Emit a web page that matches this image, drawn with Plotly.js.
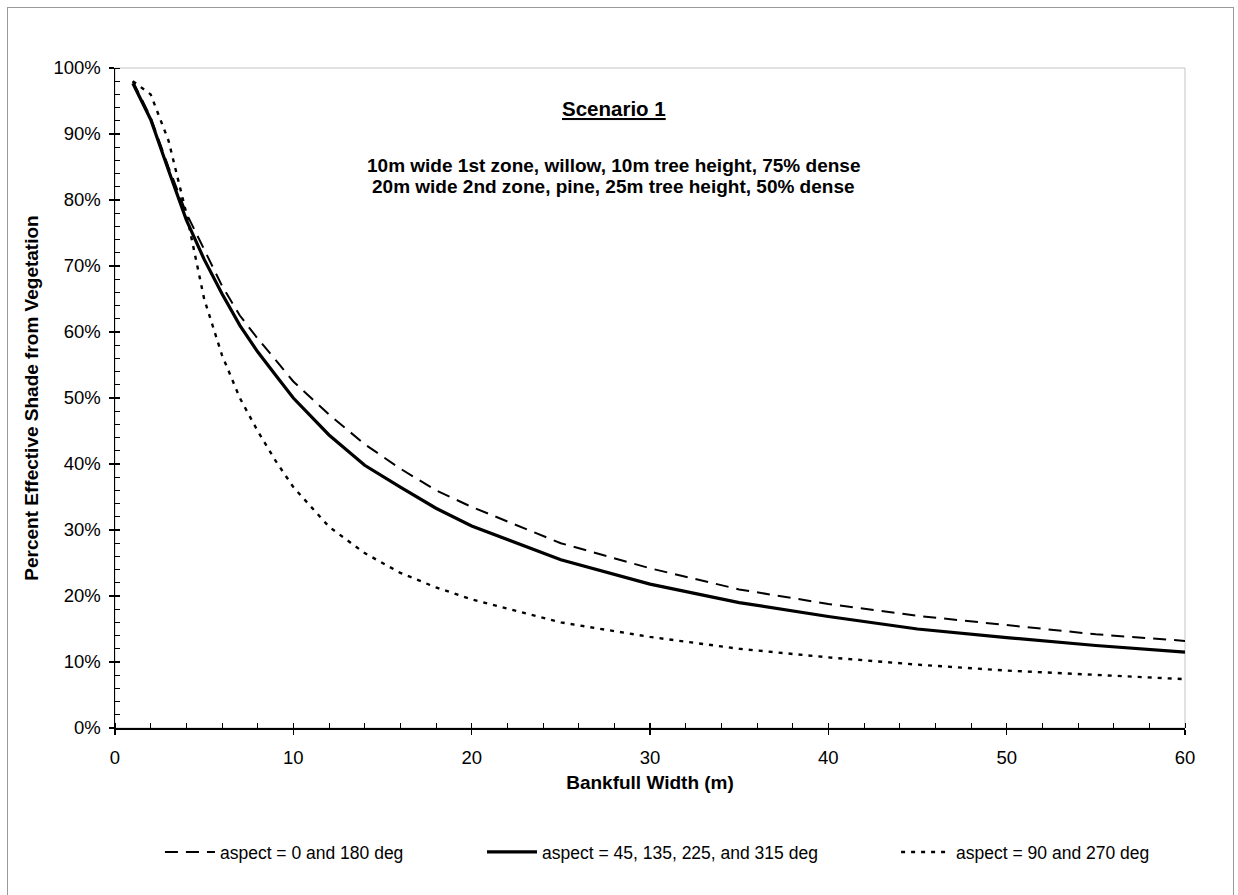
<!DOCTYPE html>
<html>
<head>
<meta charset="utf-8">
<script src="https://cdn.plot.ly/plotly-3.0.1.min.js"></script>
<style>
  html, body { margin: 0; padding: 0; background: #fff; }
  #chart { position: absolute; left: 0; top: 0; width: 1238px; height: 895px; }
  #frame { position: absolute; left: 7px; top: 7px; width: 1225px; height: 900px; border: 1px solid #9a9a9a; pointer-events: none; }
</style>
</head>
<body>
<div id="chart"></div>
<div id="frame"></div>
<script>
// Bankfull width (m)
const widths = [1, 2, 3, 4, 5, 6, 7, 8, 9, 10, 12, 14, 16, 18, 20, 25, 30, 35, 40, 45, 50, 55, 60];
// Percent effective shade (%)
const shadeAspect0_180 = [98, 92.5, 85, 78, 72.5, 67, 62.5, 59, 55.8, 52.5, 47.5, 43, 39.3, 36, 33.5, 28, 24.2, 21, 18.8, 17, 15.6, 14.2, 13.2];
const shadeAspect45 = [97.7, 92.2, 84.5, 77, 71, 65.8, 61, 57, 53.5, 50, 44.4, 39.8, 36.5, 33.3, 30.6, 25.5, 21.8, 19, 16.9, 15, 13.7, 12.5, 11.5];
const shadeAspect90_270 = [98, 96, 89, 78, 65, 56.5, 50, 45, 40.5, 36.5, 30.5, 26.5, 23.5, 21.3, 19.5, 16, 13.8, 12, 10.7, 9.6, 8.7, 8.0, 7.4];

const seriesNames = ['aspect = 0 and 180 deg', 'aspect = 45, 135, 225, and 315 deg', 'aspect = 90 and 270 deg'];

const xTitle = 'Bankfull Width (m)';
const yTitle = 'Percent Effective Shade from Vegetation';
const noteTitle = 'Scenario 1';
const noteLines = ['10m wide 1st zone, willow, 10m tree height, 75% dense', '20m wide 2nd zone, pine, 25m tree height, 50% dense'];

const FONT = 'Liberation Sans, Arial, sans-serif';

const traces = [
  { x: widths, y: shadeAspect0_180, name: seriesNames[0], type: 'scatter', mode: 'lines',
    line: { color: '#000', width: 2, dash: '13px,8px' }, legend: 'legend' },
  { x: widths, y: shadeAspect45, name: seriesNames[1], type: 'scatter', mode: 'lines',
    line: { color: '#000', width: 3.2 }, legend: 'legend2' },
  { x: widths, y: shadeAspect90_270, name: seriesNames[2], type: 'scatter', mode: 'lines',
    line: { color: '#000', width: 2.4, dash: '4px,6px' }, legend: 'legend3' }
];

const legendBase = { orientation: 'h', yanchor: 'middle', y: -0.188, xanchor: 'left', itemwidth: 50,
  font: { family: FONT, size: 17.5, color: '#000' }, bgcolor: 'rgba(0,0,0,0)' };

const layout = {
  width: 1238, height: 895,
  margin: { l: 115, r: 53, t: 68, b: 167 },
  paper_bgcolor: '#fff', plot_bgcolor: '#fff',
  font: { family: FONT, color: '#000', size: 18 },
  showlegend: true,
  legend: Object.assign({}, legendBase, { x: 0.042 }),
  legend2: Object.assign({}, legendBase, { x: 0.343 }),
  legend3: Object.assign({}, legendBase, { x: 0.730 }),
  xaxis: {
    range: [0, 60], dtick: 10, tick0: 0, showgrid: false, zeroline: false,
    showline: true, linecolor: '#000', linewidth: 1.5,
    ticks: 'outside', ticklen: 5, tickwidth: 1.5, tickcolor: '#000',
    minor: { dtick: 2, ticks: 'inside', ticklen: 5, tickwidth: 1, tickcolor: '#000', showgrid: false },
    tickfont: { family: FONT, size: 18.5 }, ticklabelstandoff: 7,
    title: { text: '<b>' + xTitle + '</b>', font: { family: FONT, size: 19 }, standoff: 9 },
    fixedrange: true
  },
  yaxis: {
    range: [0, 100], dtick: 10, tick0: 0, ticksuffix: '%', showgrid: false, zeroline: false,
    showline: true, linecolor: '#000', linewidth: 1.5,
    ticks: 'outside', ticklen: 5, tickwidth: 1.5, tickcolor: '#000',
    minor: { dtick: 2, ticks: 'inside', ticklen: 5, tickwidth: 1, tickcolor: '#000', showgrid: false },
    tickfont: { family: FONT, size: 18.5 }, ticklabelstandoff: 4,
    title: { text: '<b>' + yTitle + '</b>', font: { family: FONT, size: 19 }, standoff: 10 },
    fixedrange: true
  },
  xaxis2: { overlaying: 'x', anchor: 'y', matches: 'x', range: [0, 60], dtick: 10, tick0: 0,
    showgrid: false, zeroline: false, showline: false, showticklabels: false,
    ticks: 'inside', ticklen: 5, tickwidth: 1.5, tickcolor: '#000', side: 'bottom' },
  yaxis2: { overlaying: 'y', anchor: 'x', matches: 'y', range: [0, 100], dtick: 10, tick0: 0,
    showgrid: false, zeroline: false, showline: false, showticklabels: false,
    ticks: 'inside', ticklen: 5, tickwidth: 1.5, tickcolor: '#000', side: 'left' },
  shapes: [
    { type: 'rect', xref: 'paper', yref: 'paper', x0: 0, x1: 1, y0: 0, y1: 1,
      line: { color: '#c4c4c4', width: 1 }, layer: 'below' }
  ],
  annotations: [
    { xref: 'paper', yref: 'paper', x: 0.466, y: 0.939, xanchor: 'center', yanchor: 'middle',
      text: '<b><u>' + noteTitle + '</u></b>', showarrow: false, font: { family: FONT, size: 20.5 } },
    { xref: 'paper', yref: 'paper', x: 0.466, y: 0.853, xanchor: 'center', yanchor: 'middle',
      text: '<b>' + noteLines[0] + '</b>', showarrow: false, font: { family: FONT, size: 19 } },
    { xref: 'paper', yref: 'paper', x: 0.466, y: 0.821, xanchor: 'center', yanchor: 'middle',
      text: '<b>' + noteLines[1] + '</b>', showarrow: false, font: { family: FONT, size: 19 } }
  ]
};

traces.push({ x: [null], y: [null], xaxis: 'x2', yaxis: 'y2', showlegend: false, hoverinfo: 'skip', type: 'scatter', mode: 'lines' });

Plotly.newPlot('chart', traces, layout, { staticPlot: true, displayModeBar: false });
</script>
</body>
</html>
